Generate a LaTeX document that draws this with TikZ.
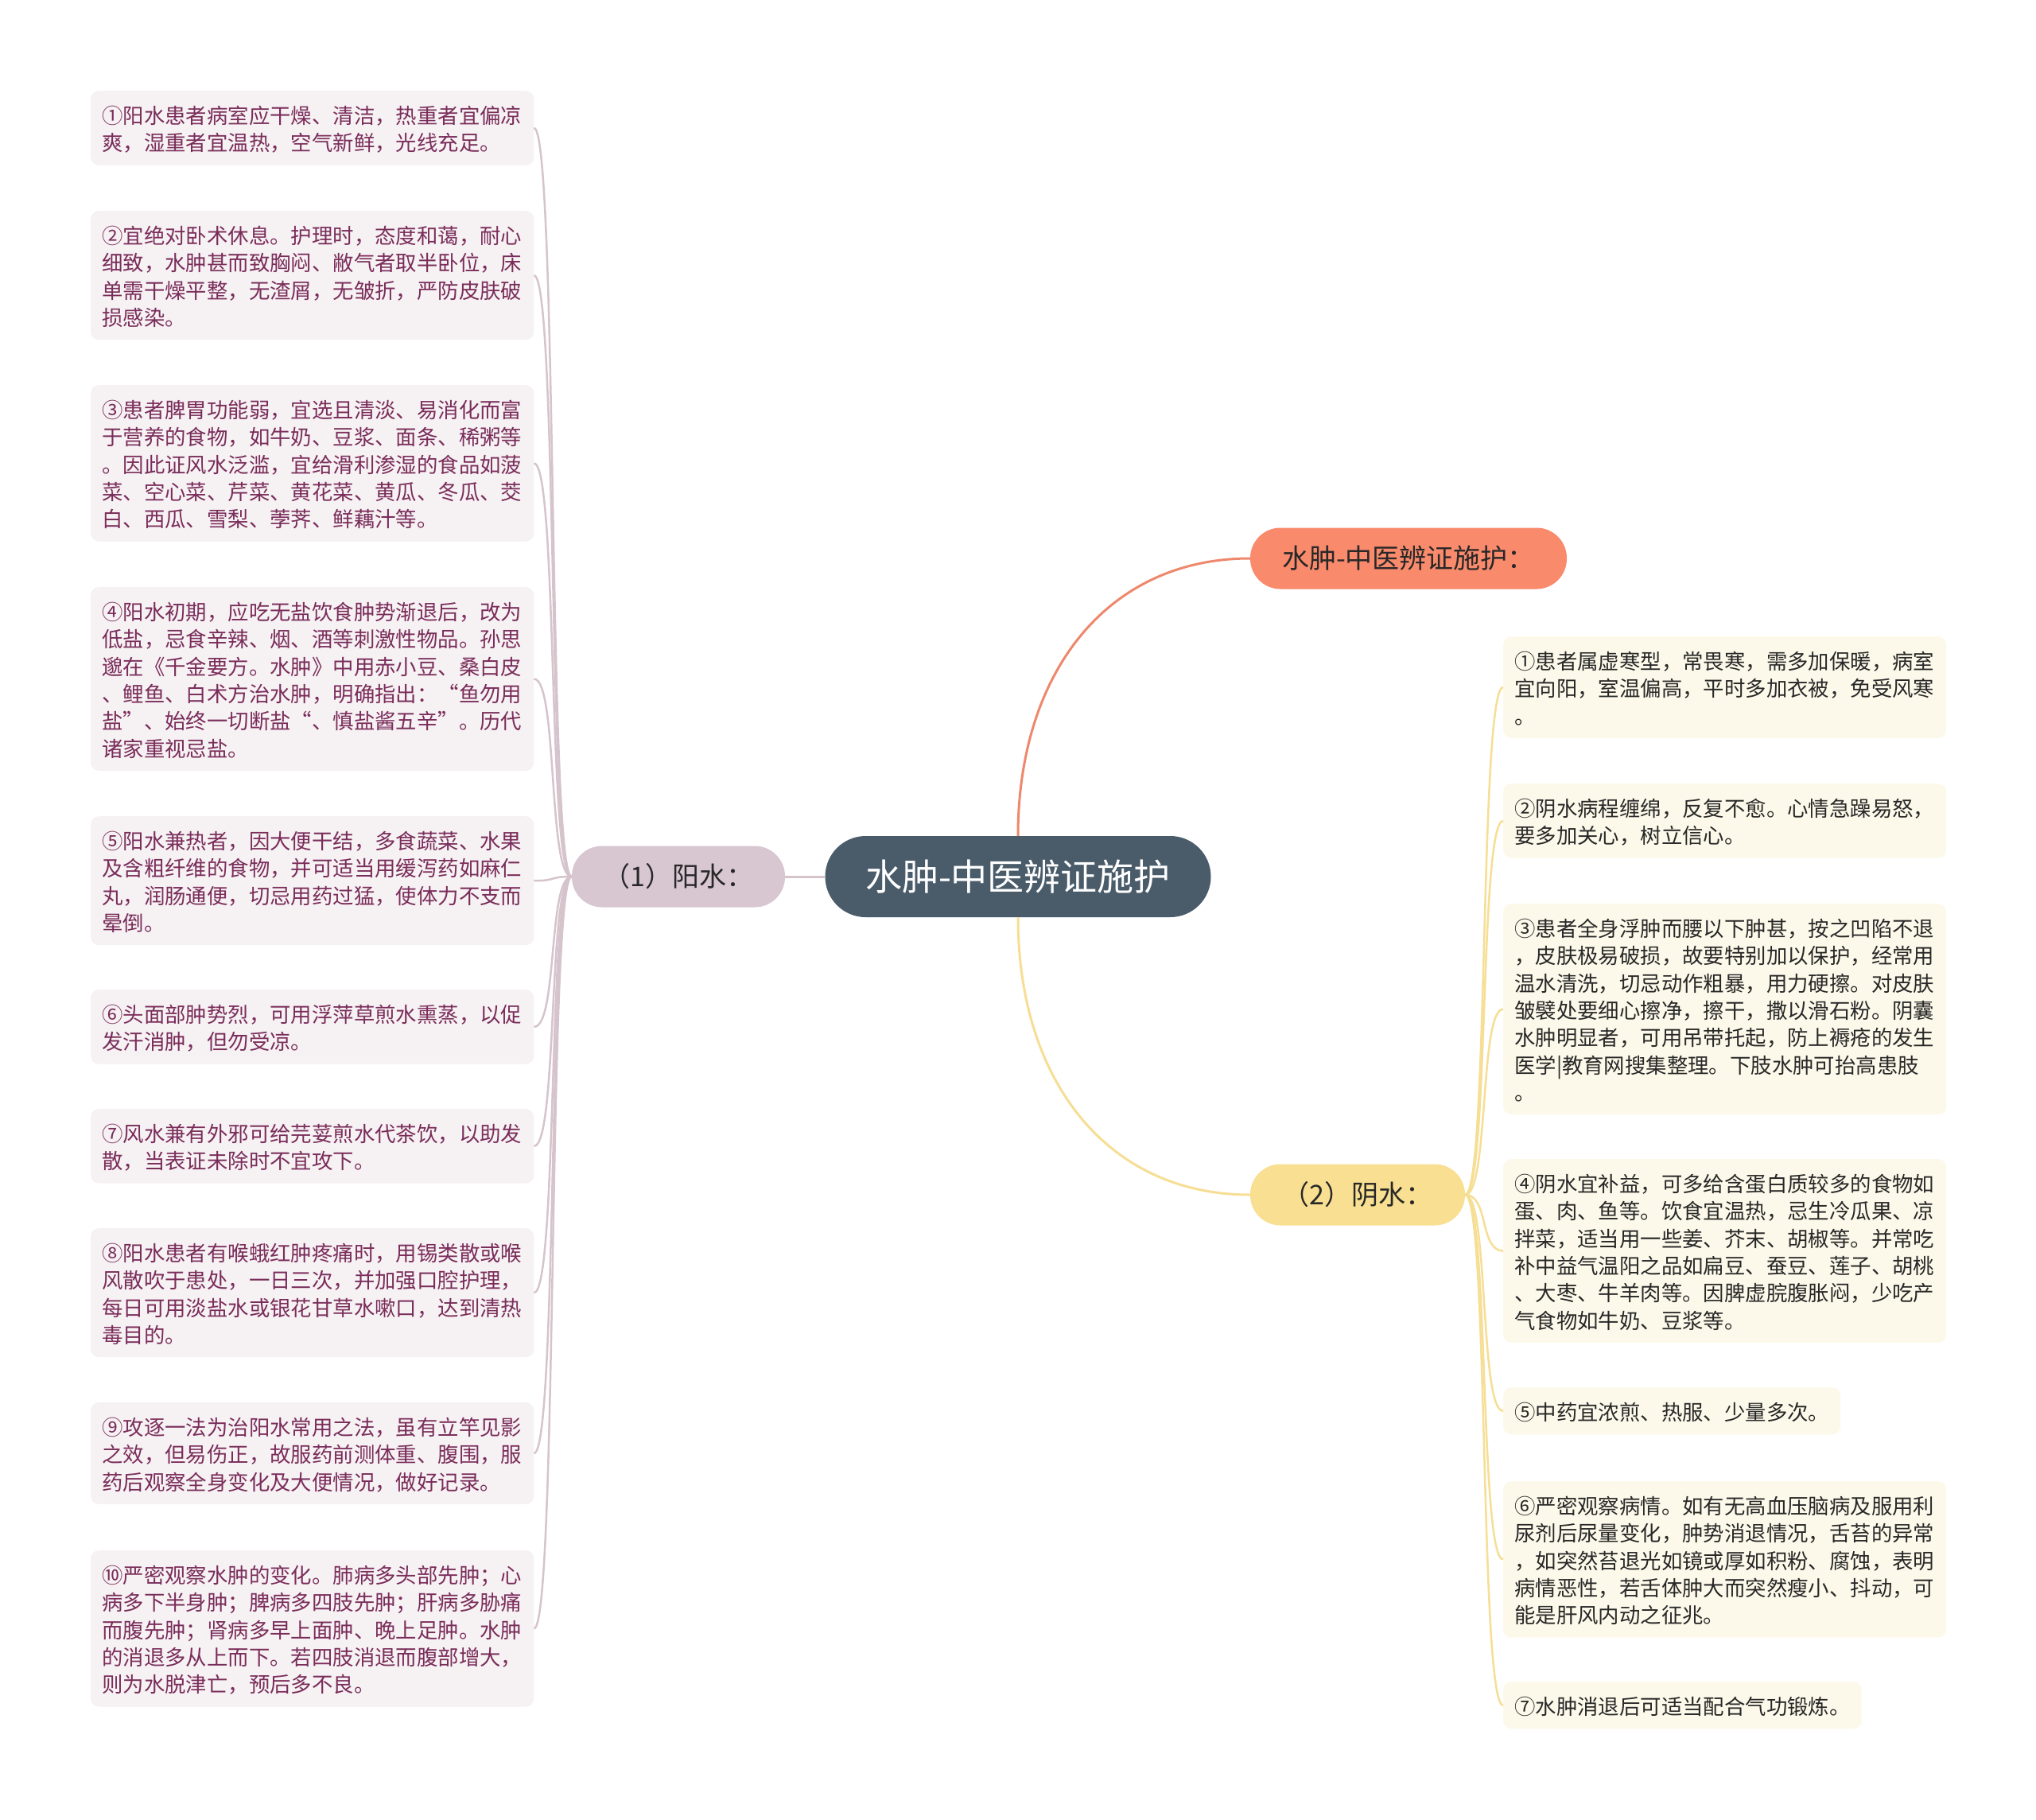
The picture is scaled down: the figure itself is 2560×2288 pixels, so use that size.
\documentclass[tikz,border=0pt]{standalone}
\usepackage{fontspec}
\setmainfont{Noto Sans CJK SC}
\usetikzlibrary{positioning, calc}
\definecolor{slate_blue}{RGB}{74, 91, 106}
\definecolor{coral}{RGB}{249, 138, 108}
\definecolor{coral_line}{RGB}{238, 136, 108}
\definecolor{mauve}{RGB}{216, 198, 208}
\definecolor{mauve_line}{RGB}{214, 196, 205}
\definecolor{mauve_mist}{RGB}{246, 241, 243}
\definecolor{plum}{RGB}{122, 45, 90}
\definecolor{butter}{RGB}{249, 223, 145}
\definecolor{butter_line}{RGB}{246, 222, 148}
\definecolor{cream}{RGB}{253, 249, 234}
\definecolor{ink}{RGB}{40, 40, 40}

\begin{document}
\begin{tikzpicture}[
    x=1pt, y=-1pt,
    % Node styles
    topic/.style={
        rectangle,
        fill=slate_blue,
        text=white,
        rounded corners=51pt,
        minimum width=485pt,
        minimum height=102pt,
        font=\fontsize{46}{55}\selectfont
    },
    branch/.style={
        rectangle,
        fill=#1,
        text=ink,
        rounded corners=38pt,
        minimum height=77pt,
        font=\fontsize{34}{42}\selectfont
    },
    leaf/.style={
        rectangle,
        anchor=north west,
        rounded corners=10pt,
        inner xsep=14pt,
        inner ysep=12.4pt,
        align=left,
        execute at begin node={\rule{0pt}{29pt}},
        execute at end node={\rule[-5.3pt]{0pt}{5.3pt}},
        font=\fontsize{26.4}{34.3}\selectfont
    },
    yang_leaf/.style={leaf, fill=mauve_mist, text=plum, text width=529pt},
    yin_leaf/.style={leaf, fill=cream, text=ink, #1},
    yin_leaf/.default={text width=529pt},
    link/.style={
        line width=#1
    },
    link/.default=2.5pt
]

\useasboundingbox (0,0) rectangle (2560,2288);
\fill[white] (0,0) rectangle (2560,2288);

% Position nodes
\node[topic] (topic) at (1280,1102) {水肿-中医辨证施护};

\node[branch=coral, minimum width=398pt] (care) at (1771,702) {水肿-中医辨证施护：};

\node[branch=mauve, minimum width=268pt] (yang) at (853,1102) {（1）阳水：};

\node[branch=butter, minimum width=270pt] (yin) at (1707,1502) {（2）阴水：};

% left column
\node[yang_leaf] (yang1) at (114,114) {①阳水患者病室应干燥、清洁，热重者宜偏凉\\爽，湿重者宜温热，空气新鲜，光线充足。};
\node[yang_leaf] (yang2) at (114,265) {②宜绝对卧术休息。护理时，态度和蔼，耐心\\细致，水肿甚而致胸闷、敝气者取半卧位，床\\单需干燥平整，无渣屑，无皱折，严防皮肤破\\损感染。};
\node[yang_leaf] (yang3) at (114,484) {③患者脾胃功能弱，宜选且清淡、易消化而富\\于营养的食物，如牛奶、豆浆、面条、稀粥等\\。因此证风水泛滥，宜给滑利渗湿的食品如菠\\菜、空心菜、芹菜、黄花菜、黄瓜、冬瓜、茭\\白、西瓜、雪梨、荸荠、鲜藕汁等。};
\node[yang_leaf] (yang4) at (114,738) {④阳水初期，应吃无盐饮食肿势渐退后，改为\\低盐，忌食辛辣、烟、酒等刺激性物品。孙思\\邈在《千金要方。水肿》中用赤小豆、桑白皮\\、鲤鱼、白术方治水肿，明确指出：“鱼勿用\\盐”、始终一切断盐“、慎盐酱五辛”。历代\\诸家重视忌盐。};
\node[yang_leaf] (yang5) at (114,1026) {⑤阳水兼热者，因大便干结，多食蔬菜、水果\\及含粗纤维的食物，并可适当用缓泻药如麻仁\\丸，润肠通便，切忌用药过猛，使体力不支而\\晕倒。};
\node[yang_leaf] (yang6) at (114,1244) {⑥头面部肿势烈，可用浮萍草煎水熏蒸，以促\\发汗消肿，但勿受凉。};
\node[yang_leaf] (yang7) at (114,1394) {⑦风水兼有外邪可给芫荽煎水代茶饮，以助发\\散，当表证未除时不宜攻下。};
\node[yang_leaf] (yang8) at (114,1544) {⑧阳水患者有喉蛾红肿疼痛时，用锡类散或喉\\风散吹于患处，一日三次，并加强口腔护理，\\每日可用淡盐水或银花甘草水嗽口，达到清热\\毒目的。};
\node[yang_leaf] (yang9) at (114,1763) {⑨攻逐一法为治阳水常用之法，虽有立竿见影\\之效，但易伤正，故服药前测体重、腹围，服\\药后观察全身变化及大便情况，做好记录。};
\node[yang_leaf] (yang10) at (114,1949) {⑩严密观察水肿的变化。肺病多头部先肿；心\\病多下半身肿；脾病多四肢先肿；肝病多胁痛\\而腹先肿；肾病多早上面肿、晚上足肿。水肿\\的消退多从上而下。若四肢消退而腹部增大，\\则为水脱津亡，预后多不良。};

% right column
\node[yin_leaf] (yin1) at (1890,800) {①患者属虚寒型，常畏寒，需多加保暖，病室\\宜向阳，室温偏高，平时多加衣被，免受风寒\\。};
\node[yin_leaf] (yin2) at (1890,985) {②阴水病程缠绵，反复不愈。心情急躁易怒，\\要多加关心，树立信心。};
\node[yin_leaf] (yin3) at (1890,1136) {③患者全身浮肿而腰以下肿甚，按之凹陷不退\\，皮肤极易破损，故要特别加以保护，经常用\\温水清洗，切忌动作粗暴，用力硬擦。对皮肤\\皱襞处要细心擦净，擦干，撒以滑石粉。阴囊\\水肿明显者，可用吊带托起，防上褥疮的发生\\医学|教育网搜集整理。下肢水肿可抬高患肢\\。};
\node[yin_leaf] (yin4) at (1890,1457) {④阴水宜补益，可多给含蛋白质较多的食物如\\蛋、肉、鱼等。饮食宜温热，忌生冷瓜果、凉\\拌菜，适当用一些姜、芥末、胡椒等。并常吃\\补中益气温阳之品如扁豆、蚕豆、莲子、胡桃\\、大枣、牛羊肉等。因脾虚脘腹胀闷，少吃产\\气食物如牛奶、豆浆等。};
\node[yin_leaf={}] (yin5) at (1890,1744) {⑤中药宜浓煎、热服、少量多次。};
\node[yin_leaf] (yin6) at (1890,1862) {⑥严密观察病情。如有无高血压脑病及服用利\\尿剂后尿量变化，肿势消退情况，舌苔的异常\\，如突然苔退光如镜或厚如积粉、腐蚀，表明\\病情恶性，若舌体肿大而突然瘦小、抖动，可\\能是肝风内动之征兆。};
\node[yin_leaf={}] (yin7) at (1890,2114) {⑦水肿消退后可适当配合气功锻炼。};

% draw links
\draw[link=3pt, draw=coral_line] (topic.north) .. controls +(0,-206) and +(-179,0) .. (care.west);
\draw[link=3pt, draw=butter_line] (topic.south) .. controls +(0,206) and +(-179,0) .. (yin.west);
\draw[link=3pt, draw=mauve_line] (topic.west) -- (yang.east);

\draw[link, draw=mauve_line] (yang.west) .. controls +(-30,0) and +(30,0) .. (yang1.east);
\draw[link, draw=mauve_line] (yang.west) .. controls +(-30,0) and +(30,0) .. (yang2.east);
\draw[link, draw=mauve_line] (yang.west) .. controls +(-30,0) and +(30,0) .. (yang3.east);
\draw[link, draw=mauve_line] (yang.west) .. controls +(-30,0) and +(30,0) .. (yang4.east);
\draw[link, draw=mauve_line] (yang.west) .. controls +(-30,0) and +(30,0) .. (yang5.east);
\draw[link, draw=mauve_line] (yang.west) .. controls +(-30,0) and +(30,0) .. (yang6.east);
\draw[link, draw=mauve_line] (yang.west) .. controls +(-30,0) and +(30,0) .. (yang7.east);
\draw[link, draw=mauve_line] (yang.west) .. controls +(-30,0) and +(30,0) .. (yang8.east);
\draw[link, draw=mauve_line] (yang.west) .. controls +(-30,0) and +(30,0) .. (yang9.east);
\draw[link, draw=mauve_line] (yang.west) .. controls +(-30,0) and +(30,0) .. (yang10.east);

\draw[link, draw=butter_line] (yin.east) .. controls +(30,0) and +(-30,0) .. (yin1.west);
\draw[link, draw=butter_line] (yin.east) .. controls +(30,0) and +(-30,0) .. (yin2.west);
\draw[link, draw=butter_line] (yin.east) .. controls +(30,0) and +(-30,0) .. (yin3.west);
\draw[link, draw=butter_line] (yin.east) .. controls +(30,0) and +(-30,0) .. (yin4.west);
\draw[link, draw=butter_line] (yin.east) .. controls +(30,0) and +(-30,0) .. (yin5.west);
\draw[link, draw=butter_line] (yin.east) .. controls +(30,0) and +(-30,0) .. (yin6.west);
\draw[link, draw=butter_line] (yin.east) .. controls +(30,0) and +(-30,0) .. (yin7.west);

\end{tikzpicture}
\end{document}
